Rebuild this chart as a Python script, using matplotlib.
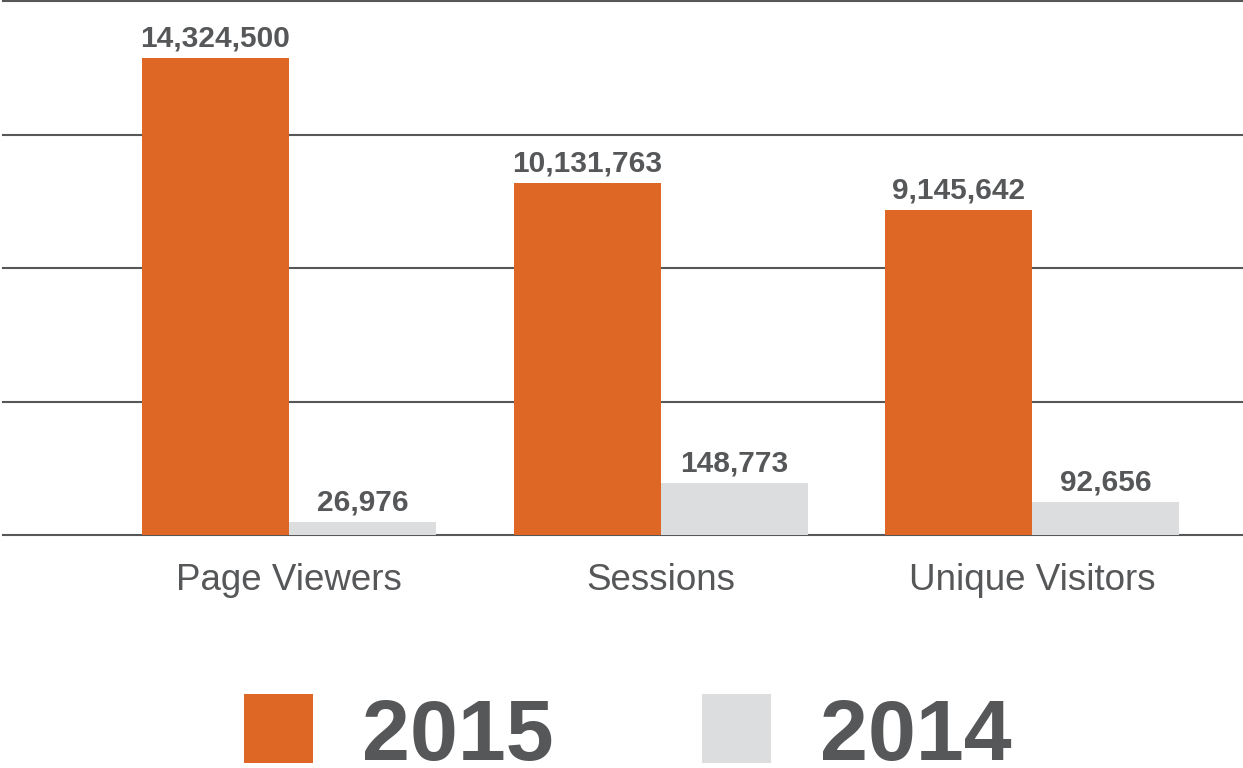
import matplotlib
matplotlib.use("Agg")
import matplotlib.pyplot as plt
from matplotlib.patches import Rectangle
from matplotlib.transforms import blended_transform_factory
import numpy as np

# ---- data ----
categories = ["Page Viewers", "Sessions", "Unique Visitors"]
series_names = ["2015", "2014"]
values_2015 = [14324500, 10131763, 9145642]
values_2014 = [26976, 148773, 92656]
# bar heights as drawn in the picture (millions; the original graphic is not to scale)
drawn_2015 = [14.3, 10.55, 9.75]
drawn_2014 = [0.39, 1.56, 0.99]
grid_ticks = [0, 4, 8, 12, 16]

# ---- style ----
ORANGE = "#DF6726"
GREY = "#DCDDDF"
TEXT = "#555759"
plt.rcParams['font.family'] = ['Liberation Sans', 'DejaVu Sans']

W, H = 1243, 768
fig = plt.figure(figsize=(W / 100, H / 100), dpi=100)
ax_left, ax_right = 3 / W, 1.0
ax_bottom, ax_top = 1 - 535 / H, 1 - 1 / H
ax = fig.add_axes([ax_left, ax_bottom, ax_right - ax_left, ax_top - ax_bottom])

x = np.arange(len(categories))
width = 147 / 371.5

b1 = ax.bar(x - width / 2, drawn_2015, width, color=ORANGE, zorder=3)
b2 = ax.bar(x + width / 2, drawn_2014, width, color=GREY, zorder=3)

for rects, vals in ((b1, values_2015), (b2, values_2014)):
    for r, v in zip(rects, vals):
        ax.annotate(f"{v:,}", xy=(r.get_x() + r.get_width() / 2, r.get_height()),
                    xytext=(0, 8), textcoords="offset points",
                    ha="center", va="baseline", fontsize=21.5,
                    fontweight="bold", color=TEXT, zorder=4)

for g in grid_ticks:
    ax.axhline(g, color=TEXT, lw=1.5, zorder=2, clip_on=False)

ax.set_ylim(0, 16)
ax.set_xlim((3 - 289) / 371.5, (1243 - 289) / 371.5)
ax.set_yticks([])
ax.set_xticks([])
for s in ax.spines.values():
    s.set_visible(False)

# category labels
trans = blended_transform_factory(ax.transData, fig.transFigure)
for xi, cat in zip(x, categories):
    ax.text(xi, 1 - 590 / H, cat, transform=trans, ha="center", va="baseline",
            fontsize=26.5, color=TEXT)

# legend (manual)
legend_specs = [(244, 362, ORANGE, series_names[0]), (702, 820, GREY, series_names[1])]
for sx, tx, col, name in legend_specs:
    fig.add_artist(Rectangle((sx / W, 1 - 763 / H), 69 / W, 69 / H,
                             transform=fig.transFigure, color=col, lw=0))
    fig.text(tx / W, 1 - 760 / H, name, ha="left", va="baseline",
             fontsize=62, fontweight="bold", color=TEXT)

fig.savefig("out.png", dpi=100)
